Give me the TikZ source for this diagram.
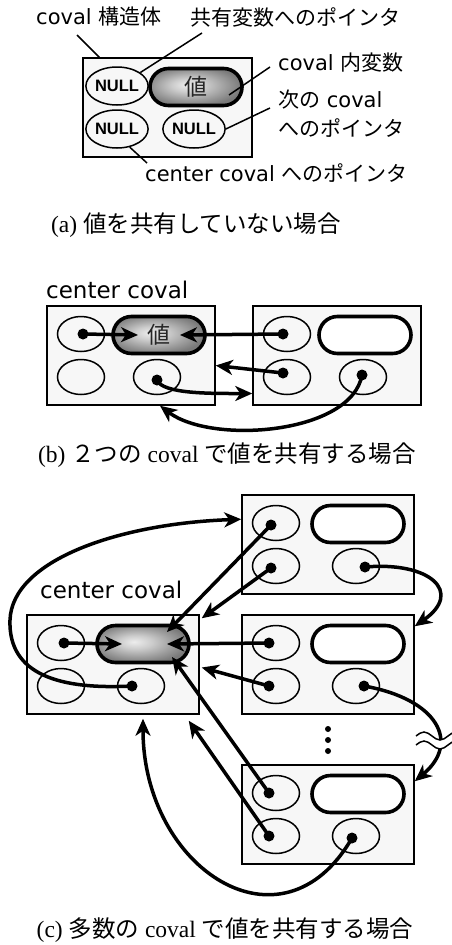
\documentclass[tikz,border=0pt]{standalone}
\usepackage{fontspec}
\newfontfamily\jpfont{Noto Sans CJK JP}
\newfontfamily\latfont{DejaVu Sans}
\newfontfamily\serfont{Liberation Serif}
\newfontfamily\ptrfnt{Liberation Sans}
\usetikzlibrary{arrows.meta,shapes.geometric,shapes.misc}

% soft highlight for a value that is in use
\pgfdeclareradialshading{pillglow}{\pgfpoint{-5bp}{3bp}}{%
  color(0bp)=(black!7); color(9bp)=(black!20); color(19bp)=(black!38);
  color(27bp)=(black!52); color(50bp)=(black!52)}

\newcommand\lblsize{\jpfont\fontsize{21}{25}\selectfont}
\newcommand\bigsize{\latfont\fontsize{23}{27}\selectfont}
\newcommand\valsize{\jpfont\fontsize{23}{27}\selectfont}
\newcommand\capsize{\jpfont\fontsize{23.5}{28}\selectfont}
\newcommand\nulltext{{\ptrfnt\bfseries\fontsize{16.5}{17}\selectfont NULL}}

% one coval record: #1 name, #2 left, #3 top, #4 width,
% #5 pointer text, #6 extra value style, #7 value text
\newcommand\covalbox[7]{%
  \node[cbox, minimum width=#4] (#1) at ({#2+#4/2},{#3+49.5}) {};
  \node[cptr] (#1-s) at ({#2+34},{#3+28}) {#5};
  \node[cval,#6] (#1-v) at ({#2+#4-56},{#3+29}) {#7};
  \node[cptr] (#1-c) at ({#2+34},{#3+71}) {#5};
  \node[cptr] (#1-n) at ({#2+#4-58},{#3+71}) {#5};
}

\begin{document}
\begin{tikzpicture}[x=1pt,y=-1pt,
  cbox/.style={draw, line width=1.5pt, fill=black!3, minimum height=99pt, inner sep=0pt},
  cptr/.style={draw, ellipse, line width=1.5pt, minimum width=47pt, minimum height=35pt, inner sep=0pt},
  cval/.style={draw, rounded rectangle, line width=3.6pt, fill=white, minimum width=92pt,
    minimum height=37pt, inner sep=0pt, text=black!85, font=\valsize},
  glow/.style={shading=pillglow},
  ptr/.style={line width=3.5pt, -{Stealth[length=17pt,width=15pt,inset=5pt]}},
  pdot/.style={circle, fill=black, inner sep=0pt, minimum size=11pt},
  leader/.style={line width=1.5pt},
  lbl/.style={inner sep=0pt, anchor=west, font=\lblsize},
  captxt/.style={inner sep=0pt, font=\capsize},
  vdot/.style={circle, fill=black, inner sep=0pt, minimum size=6pt},
  brk/.style={line width=1.5pt}]
\fill[white] (0,0) rectangle (451,945);
\useasboundingbox (0,0) rectangle (451,945);

% ---------- (a) a single coval ----------
\begin{scope}[cptr/.append style={minimum width=46pt, minimum height=38pt}]
  \covalbox{A}{83}{58}{169}{\nulltext}{glow}{値}
\end{scope}
\node[lbl] (tA1) at (36,17) {{\latfont coval }構造体};
\node[lbl] (tA2) at (190,17) {共有変数へのポインタ};
\node[lbl] (tA3) at (278,63) {{\latfont coval }内変数};
\node[lbl] (tA4) at (278,100) {次の{\latfont\ coval}};
\node[lbl] (tA5) at (278,128) {へのポインタ};
\node[lbl] (tA6) at (145,173) {{\latfont center coval }へのポインタ};
\coordinate (l1) at (77,35);
\coordinate (l2) at (202,33);
\coordinate (l3) at (270,67);
\coordinate (l4) at (270,108);
\coordinate (l5) at (147,163);
\draw[leader] (l1) -- ([xshift=17pt]A.north west);
\draw[leader] (A-s.30) -- (l2);
\draw[leader] ([xshift=33pt,yshift=-8pt]A-v.center) -- (l3);
\draw[leader] (A-n.east) -- (l4);
\draw[leader] (A-c.-55) -- (l5);
\node[captxt] (capA) at (196,225) {{\serfont (a) }値を共有していない場合};

% ---------- (b) two covals ----------
\node[lbl, font=\bigsize] (tB) at (46,290) {center coval};
\covalbox{B0}{47}{306}{168}{}{glow}{値}
\covalbox{B1}{253}{306}{168}{}{}{}
\node[pdot] (B0-sd) at ([xshift=2pt]B0-s.center) {};
\node[pdot] (B0-nd) at ([yshift=-3pt]B0-n.center) {};
\node[pdot] (B1-sd) at ([xshift=-4pt]B1-s.center) {};
\node[pdot] (B1-cd) at ([xshift=-4pt,yshift=4pt]B1-c.center) {};
\node[pdot] (B1-nd) at ([xshift=-1pt,yshift=2pt]B1-n.center) {};
\draw[ptr] (B0-sd.center) -- ([xshift=-21pt]B0-v.center);
\draw[ptr] (B1-sd.center) -- ([xshift=21pt]B0-v.center);
\draw[ptr] (B1-cd.center) -- ([yshift=-10pt]B0.east);
\draw[ptr] (B0-nd.center) to[out=-70, in=180, out distance=15pt, in distance=40pt] ([yshift=-38pt]B1.west);
\draw[ptr] (B1-nd.center) to[out=-100, in=-37, out distance=60pt, in distance=65pt] ([xshift=29pt]B0.south);
\node[captxt] (capB) at (227,455) {{\serfont (b) }２つの{\serfont\ coval }で値を共有する場合};

% ---------- (c) many covals ----------
\node[lbl, font=\bigsize] (tC) at (40,590) {center coval};
\covalbox{C0}{27}{615}{172}{}{glow}{}
\covalbox{C1}{242}{495}{172}{}{}{}
\covalbox{C2}{242}{615}{172}{}{}{}
\covalbox{C3}{242}{765}{172}{}{}{}
\node[pdot] (C0-sd) at ([xshift=3pt]C0-s.center) {};
\node[pdot] (C0-nd) at ([xshift=-9pt]C0-n.center) {};
\node[pdot] (C1-sd) at ([xshift=-5pt,yshift=-2pt]C1-s.center) {};
\node[pdot] (C1-cd) at ([xshift=-5pt,yshift=-2pt]C1-c.center) {};
\node[pdot] (C1-nd) at ([xshift=9pt,yshift=-1pt]C1-n.center) {};
\node[pdot] (C2-sd) at ([xshift=-7pt]C2-s.center) {};
\node[pdot] (C2-cd) at ([xshift=-7pt]C2-c.center) {};
\node[pdot] (C2-nd) at ([xshift=8pt]C2-n.center) {};
\node[pdot] (C3-sd) at ([xshift=-7pt]C3-s.center) {};
\node[pdot] (C3-cd) at ([xshift=-7pt]C3-c.center) {};
\node[pdot] (C3-nd) at ([xshift=-4pt,yshift=-2pt]C3-n.center) {};

\draw[ptr] (C0-sd.center) -- ([xshift=-21pt]C0-v.center);
\draw[ptr] (C2-sd.center) -- ([xshift=24pt]C0-v.center);
\draw[ptr] (C1-sd.center) -- ([xshift=24pt,yshift=12pt]C0-v.center);
\draw[ptr] (C1-cd.center) -- ([xshift=2pt,yshift=-4pt]C0.north east);
\draw[ptr] (C2-cd.center) -- ([xshift=2pt,yshift=-3pt]C0.east);
\draw[ptr] (C3-sd.center) -- ([xshift=29pt,yshift=-13pt]C0-v.center);
\draw[ptr] (C3-cd.center) -- ([xshift=-11pt,yshift=-6pt]C0.south east);
\draw[ptr] (C3-nd.center) to[out=-120, in=-90, out distance=140pt, in distance=150pt] ([xshift=30pt,yshift=-4pt]C0.south);
\coordinate (loopL) at (10,620);
\draw[ptr] (C0-nd.center) to[out=183, in=-92, out distance=72pt, in distance=55pt] (loopL)
  to[out=88, in=182, out distance=60pt, in distance=122pt] ([yshift=-25pt]C1.north west);
\draw[ptr] (C1-nd.center) to[out=5, in=35, out distance=65pt, in distance=60pt] ([yshift=-12pt]C2.north east);
\draw[ptr] (C2-nd.center) to[out=-10, in=40, out distance=75pt, in distance=60pt] ([yshift=-17pt]C3.north east);

% break mark on the chain of next pointers
\draw[white, line width=8pt] (416,740.5) sin (424,736.5) cos (432,740.5) sin (440,744.5) cos (448,740.5) sin (456,736.5);
\draw[brk] (416,736) sin (424,732) cos (432,736) sin (440,740) cos (448,736) sin (456,732);
\draw[brk] (416,745) sin (424,741) cos (432,745) sin (440,749) cos (448,745) sin (456,741);

% omitted covals
\node[vdot] (vd1) at (328,729) {};
\node[vdot] (vd2) at (328,740) {};
\node[vdot] (vd3) at (328,751) {};

\node[captxt] (capC) at (225,930) {{\serfont (c) }多数の{\serfont\ coval }で値を共有する場合};
\end{tikzpicture}
\end{document}
